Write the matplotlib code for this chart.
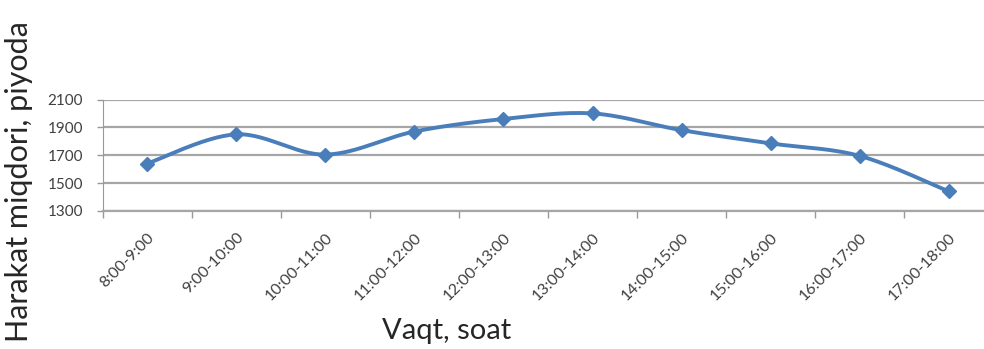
import numpy as np
import matplotlib
matplotlib.use("Agg")
import matplotlib.pyplot as plt

# --- data ---
periods = ["8:00-9:00", "9:00-10:00", "10:00-11:00", "11:00-12:00", "12:00-13:00",
           "13:00-14:00", "14:00-15:00", "15:00-16:00", "16:00-17:00", "17:00-18:00"]
pedestrians = [1640, 1850, 1705, 1870, 1960, 2000, 1880, 1785, 1695, 1440]
y_ticks = [1300, 1500, 1700, 1900, 2100]


def smooth_curve(x, y, steps=30):
    """Catmull-Rom ko'rinishidagi silliq chiziq (Excel 'smoothed line' kabi)"""
    x = np.asarray(x, float)
    y = np.asarray(y, float)
    px = np.concatenate([[x[0]], x, [x[-1]]])
    py = np.concatenate([[y[0]], y, [y[-1]]])
    xs, ys = [], []
    t = np.linspace(0, 1, steps)
    for i in range(1, len(px) - 2):
        # bezier control points
        c1x = px[i] + (px[i + 1] - px[i - 1]) / 6
        c1y = py[i] + (py[i + 1] - py[i - 1]) / 6
        c2x = px[i + 1] - (px[i + 2] - px[i]) / 6
        c2y = py[i + 1] - (py[i + 2] - py[i]) / 6
        b0 = (1 - t) ** 3
        b1 = 3 * (1 - t) ** 2 * t
        b2 = 3 * (1 - t) * t ** 2
        b3 = t ** 3
        xs.append(b0 * px[i] + b1 * c1x + b2 * c2x + b3 * px[i + 1])
        ys.append(b0 * py[i] + b1 * c1y + b2 * c2y + b3 * py[i + 1])
    return np.concatenate(xs), np.concatenate(ys)


plt.rcParams['font.family'] = ['Lato', 'DejaVu Sans']

W, H = 984, 349
fig = plt.figure(figsize=(W / 100, H / 100), dpi=100)
left, right = 102.5, 993.5
top, bottom = 99.5, 211
ax = fig.add_axes([left / W, 1 - bottom / H, (right - left) / W, (bottom - top) / H])

xpos = np.arange(len(periods))
sx, sy = smooth_curve(xpos, pedestrians)
line_color = '#4a7ebb'
ax.plot(sx, sy, color=line_color, lw=2.8, zorder=3, solid_capstyle='round')
ax.plot(xpos, pedestrians, ls='none', marker='D', ms=7, color=line_color,
        markeredgecolor=line_color, zorder=4)

ax.set_xlim(-0.5, len(periods) - 0.5)
ax.set_ylim(y_ticks[0], y_ticks[-1])
ax.set_yticks(y_ticks)
ax.set_yticklabels([str(v) for v in y_ticks])
ax.yaxis.grid(True, color='#a6a6a6', lw=1.6)
ax.set_axisbelow(True)

ax.set_xticks(xpos)
ax.set_xticklabels(periods, rotation=45, ha='right', rotation_mode='anchor')
ax.set_xticks(np.arange(len(periods) + 1) - 0.5, minor=True)
ax.tick_params(axis='x', which='major', length=0, pad=14, labelsize=11.5, labelcolor='#404040')
ax.tick_params(axis='x', which='minor', length=5, color='#999999', width=1)
ax.tick_params(axis='y', length=4, color='#999999', width=1, pad=10, labelsize=11,
               labelcolor='#404040')

for side in ['top', 'right']:
    ax.spines[side].set_visible(False)
ax.spines['left'].set_color('#999999')
ax.spines['bottom'].set_color('#a6a6a6')
ax.spines['bottom'].set_linewidth(1.6)

fig.text(447 / W, 1 - 331 / H, 'Vaqt, soat', ha='center', va='center',
         fontsize=21, color='#262626')
fig.text(19 / W, 1 - 182 / H, 'Harakat miqdori, piyoda', ha='center', va='center',
         rotation=90, fontsize=22, color='#262626')

fig.savefig('out.png', dpi=100)
